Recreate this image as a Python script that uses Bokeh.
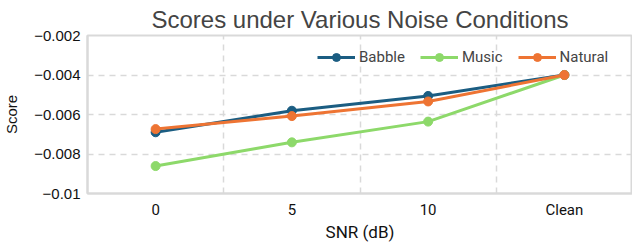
from bokeh.plotting import figure
from bokeh.models import FactorRange, Range1d, FixedTicker, CustomJSTickFormatter, Legend
from bokeh.embed import file_html
from bokeh.resources import INLINE

categories = ["0", "5", "10", "Clean"]
babble = [-0.0069, -0.00581, -0.00506, -0.0040]
music = [-0.00861, -0.00741, -0.00636, -0.0040]
natural = [-0.00674, -0.00608, -0.00534, -0.0040]
y_ticks = [-0.01, -0.008, -0.006, -0.004, -0.002]

series = [("Babble", babble, "#1b5d82"), ("Music", music, "#8dd96a"), ("Natural", natural, "#ee7433")]

FH = 158
p = figure(frame_width=545, frame_height=FH, x_range=FactorRange(factors=categories),
           y_range=Range1d(-0.01, -0.002), output_backend="svg", toolbar_location=None,
           min_border=0, min_border_left=79, min_border_right=0, min_border_top=0, min_border_bottom=0)

p.title.text = "Scores under Various Noise Conditions"
p.title.align = "center"
p.title.text_font = "Liberation Sans"
p.title.text_font_size = "24px"
p.title.text_font_style = "normal"
p.title.standoff = 6

items = []
for name, vals, col in series:
    r1 = p.line(categories, vals, line_color=col, line_width=3)
    r2 = p.scatter(categories, vals, size=9, fill_color=col, line_color=col)
    items.append((name, [r1, r2]))

legend = Legend(items=items, orientation="horizontal", location=(230, FH - 32),
                border_line_color=None, background_fill_alpha=0,
                label_text_font="Roboto", label_text_font_size="15px",
                glyph_width=38, label_standoff=4, spacing=15, padding=4, margin=0)
p.add_layout(legend)

for ax in (p.xaxis[0], p.yaxis[0]):
    ax.axis_line_color = "#d9d9d9"
    ax.axis_line_width = 2
    ax.major_tick_line_color = None
    ax.minor_tick_line_color = None
    ax.major_tick_out = 0
    ax.major_tick_in = 0
    ax.minor_tick_out = 0
    ax.minor_tick_in = 0
    ax.major_label_text_font_size = "15px"
    ax.major_label_text_color = "#111111"
    ax.axis_label_text_font_style = "normal"
    ax.axis_label_text_color = "#111111"

p.xaxis.major_label_text_font = "Roboto"
p.xaxis.major_label_standoff = 7
p.xaxis.axis_label = "SNR (dB)"
p.xaxis.axis_label_text_font = "Roboto"
p.xaxis.axis_label_text_font_size = "17px"
p.xaxis.axis_label_standoff = 0

p.yaxis.ticker = FixedTicker(ticks=y_ticks)
p.yaxis.formatter = CustomJSTickFormatter(code="""
const s = String(Math.round(tick*1000)/1000);
return s.replace('-', '\\u2212');
""")
p.yaxis.major_label_text_font = "Liberation Sans"
p.yaxis.major_label_standoff = 7
p.yaxis.axis_label = "Score"
p.yaxis.axis_label_text_font = "Liberation Sans"
p.yaxis.axis_label_text_font_size = "15px"
p.yaxis.axis_label_standoff = 11

p.ygrid.ticker = FixedTicker(ticks=y_ticks)
p.ygrid.grid_line_color = "#d9d9d9"
p.ygrid.grid_line_dash = "6 5"
p.ygrid.grid_line_width = 1.5
p.xgrid.ticker = FixedTicker(ticks=[1, 2, 3])
p.xgrid.grid_line_color = "#d9d9d9"
p.xgrid.grid_line_dash = "6 5"
p.xgrid.grid_line_width = 1.5

p.outline_line_color = "#d9d9d9"
p.outline_line_width = 2

open("out.html", "w").write(file_html(p, INLINE))
